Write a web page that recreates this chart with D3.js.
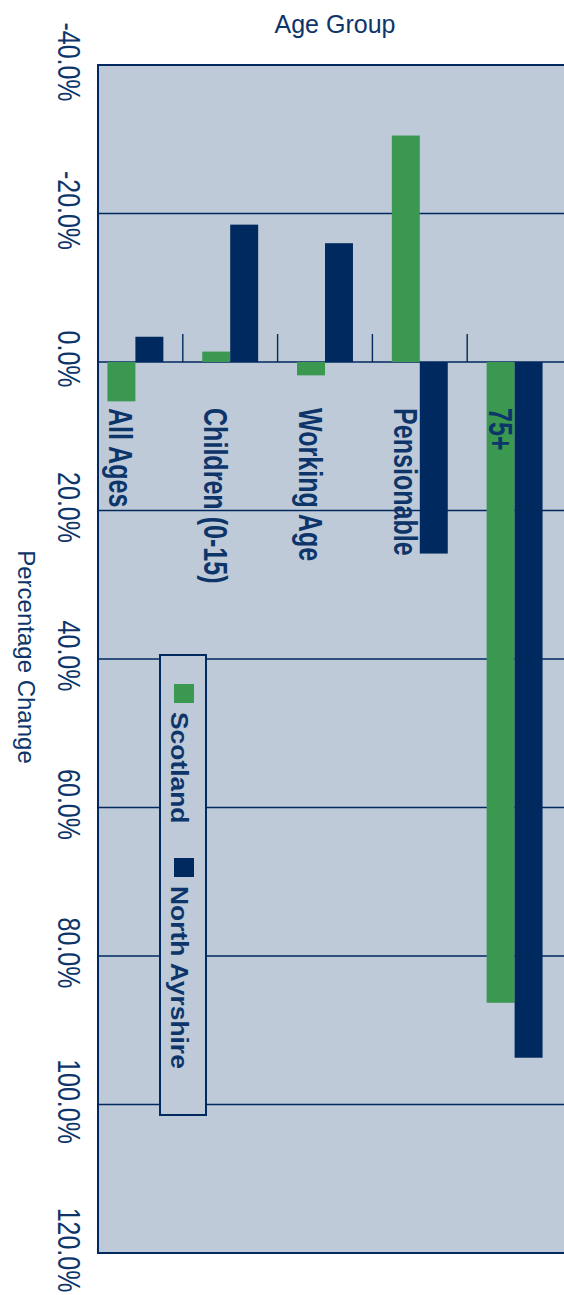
<!DOCTYPE html>
<html>
<head>
<meta charset="utf-8">
<script src="https://cdn.jsdelivr.net/npm/d3@7"></script>
<style>
  body { margin: 0; background: #fff; }
  svg { display: block; }
  text { fill: #0d356a; }
</style>
</head>
<body>
<div id="chart"></div>
<script>
// Chart data
const categories = ["All Ages", "Children (0-15)", "Working Age", "Pensionable", "75+"];
const seriesNames = ["Scotland", "North Ayrshire"];
const scotland = [5.3, -1.4, 1.8, -30.5, 86.3];
const northAyrshire = [-3.4, -18.5, -16.0, 25.8, 93.7];
const tickValues = [-40, -20, 0, 20, 40, 60, 80, 100, 120];

const W = 564, H = 1295;
const navy = "#00295f", green = "#3a9850", bg = "#bfcad8";
const font = "'Liberation Sans', Arial, sans-serif";

const svg = d3.select("#chart").append("svg")
    .attr("width", W)
    .attr("height", H);

// value axis runs down the page (chart is turned on its side)
const y = d3.scaleLinear().domain([-40, 120]).range([65, 1253]);

// category bands across the page
const x0 = d3.scaleBand().domain(categories).range([88, 562])
    .paddingInner(0.41).paddingOuter(0.205);
const x1 = d3.scaleBand().domain(seriesNames).range([0, x0.bandwidth()]);
const colour = d3.scaleOrdinal().domain(seriesNames).range([green, navy]);

const plotLeft = 98;

// plot background + frame
svg.append("rect")
    .attr("x", plotLeft).attr("y", y(-40))
    .attr("width", W - plotLeft + 10).attr("height", y(120) - y(-40))
    .attr("fill", bg).attr("stroke", navy).attr("stroke-width", 2);

// gridlines
svg.append("g").selectAll("line")
    .data(tickValues.slice(1, -1))
    .join("line")
    .attr("x1", plotLeft).attr("x2", W)
    .attr("y1", d => y(d)).attr("y2", d => y(d))
    .attr("stroke", navy).attr("stroke-width", 1.6);

// small category ticks above the zero line
svg.append("g").selectAll("line")
    .data(categories.slice(1))
    .join("line")
    .attr("x1", d => x0(d) - x0.step() * x0.paddingInner() / 2)
    .attr("x2", d => x0(d) - x0.step() * x0.paddingInner() / 2)
    .attr("y1", y(0)).attr("y2", y(0) - 28)
    .attr("stroke", navy).attr("stroke-width", 1.4);

// bars
const rows = categories.map((c, i) => ({cat: c, values: [scotland[i], northAyrshire[i]]}));
const groups = svg.append("g").selectAll("g")
    .data(rows)
    .join("g")
    .attr("transform", d => `translate(${x0(d.cat)},0)`);

groups.selectAll("rect")
    .data(d => d.values.map((v, j) => ({name: seriesNames[j], value: v})))
    .join("rect")
    .attr("x", d => x1(d.name))
    .attr("width", x1.bandwidth())
    .attr("y", d => y(Math.min(0, d.value)))
    .attr("height", d => Math.abs(y(d.value) - y(0)))
    .attr("fill", d => colour(d.name));

// category labels, turned, below the zero line
svg.append("g").selectAll("text")
    .data(categories)
    .join("text")
    .attr("transform", d => `translate(${x0(d) + 2},408) rotate(90) scale(0.76,1)`)
    .attr("font-family", font)
    .attr("font-weight", "bold")
    .attr("font-size", 33)
    .text(d => d);

// value tick labels (plain hyphen for the minus sign, as in the original)
const fmt = d => d3.format(".1f")(d).replace("\u2212", "-") + "%";
svg.append("g").selectAll("text")
    .data(tickValues)
    .join("text")
    .attr("transform", d => `translate(58,${y(d) - 3}) rotate(90) scale(0.78,1)`)
    .attr("text-anchor", "middle")
    .attr("font-family", font)
    .attr("font-size", 32)
    .text(fmt);

// axis titles
svg.append("text")
    .attr("x", 335).attr("y", 33)
    .attr("text-anchor", "middle")
    .attr("font-family", font)
    .attr("font-size", 25)
    .text("Age Group");

svg.append("text")
    .attr("transform", "translate(18,657) rotate(90)")
    .attr("text-anchor", "middle")
    .attr("font-family", font)
    .attr("font-size", 24)
    .text("Percentage Change");

// legend
const legend = svg.append("g");
legend.append("rect")
    .attr("x", 160).attr("y", 655)
    .attr("width", 46).attr("height", 460)
    .attr("fill", bg).attr("stroke", navy).attr("stroke-width", 2);

const legendY = [684, 858];
seriesNames.forEach((name, i) => {
    legend.append("rect")
        .attr("x", 174).attr("y", legendY[i])
        .attr("width", 20).attr("height", 19)
        .attr("fill", colour(name));
    legend.append("text")
        .attr("transform", `translate(171,${legendY[i] + 28}) rotate(90) scale(1.1,1)`)
        .attr("font-family", font)
        .attr("font-weight", "bold")
        .attr("font-size", 24)
        .text(name);
});
</script>
</body>
</html>
